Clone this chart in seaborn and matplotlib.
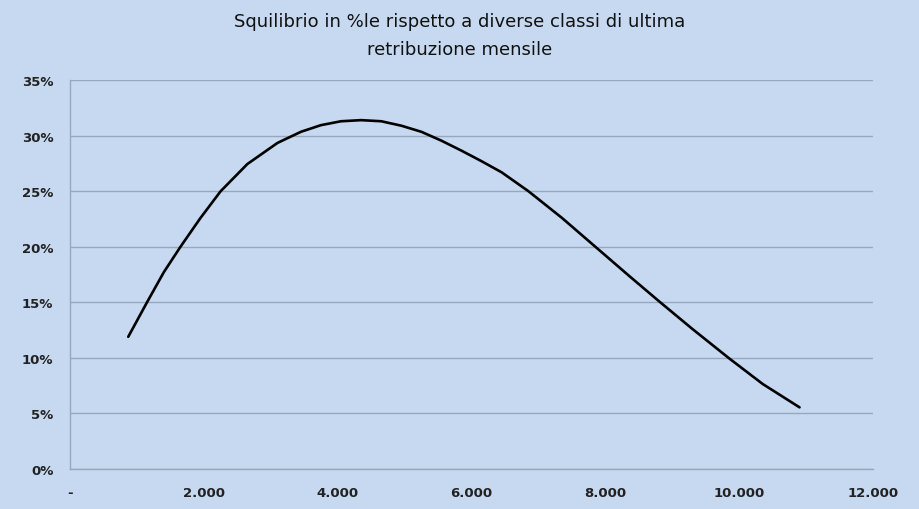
import numpy as np
import pandas as pd
import matplotlib
matplotlib.use("Agg")
import matplotlib.pyplot as plt
import seaborn as sns

# Retribuzione mensile (classi) e squilibrio in %
retribuzione = [870, 1150, 1400, 1650, 1950, 2250, 2650, 3100, 3450, 3750,
                4050, 4350, 4650, 4950, 5250, 5550, 5850, 6150, 6450, 6850,
                7350, 7850, 8350, 8800, 9300, 9850, 10350, 10900]
squilibrio = [11.9, 15.0, 17.7, 20.0, 22.6, 25.0, 27.45, 29.35, 30.35, 30.95,
              31.3, 31.4, 31.3, 30.9, 30.35, 29.55, 28.65, 27.7, 26.7, 25.0,
              22.6, 20.0, 17.4, 15.1, 12.6, 9.95, 7.65, 5.55]

x_ticks = [0, 2000, 4000, 6000, 8000, 10000, 12000]
x_labels = ["-", "2.000", "4.000", "6.000", "8.000", "10.000", "12.000"]
y_ticks = [0, 5, 10, 15, 20, 25, 30, 35]
y_labels = ["0%", "5%", "10%", "15%", "20%", "25%", "30%", "35%"]

df = pd.DataFrame({"retribuzione": retribuzione, "squilibrio": squilibrio})

sfondo = "#C6D9F1"
griglia = "#97A7BC"

sns.set_style("white")
plt.rcParams["font.family"] = ["DejaVu Sans"]

fig = plt.figure(figsize=(9.2, 5.1), dpi=100, facecolor=sfondo)
ax = fig.add_axes([0.0761, 0.0784, 0.873, 0.7625])
ax.set_facecolor(sfondo)

sns.lineplot(data=df, x="retribuzione", y="squilibrio", color="black",
             linewidth=1.9, ax=ax)

ax.set_xlim(0, 12000)
ax.set_ylim(0, 35)
ax.set_xticks(x_ticks)
ax.set_xticklabels(x_labels, fontsize=9.5, fontweight="bold", color="#222222")
ax.set_yticks(y_ticks)
ax.set_yticklabels(y_labels, fontsize=9.5, fontweight="bold", color="#222222")
ax.set_xlabel("")
ax.set_ylabel("")

ax.grid(axis="y", color=griglia, linewidth=1)
ax.set_axisbelow(True)
for lato in ["top", "right"]:
    ax.spines[lato].set_visible(False)
for lato in ["left", "bottom"]:
    ax.spines[lato].set_color(griglia)
    ax.spines[lato].set_linewidth(1)
ax.tick_params(axis="both", length=6, color=griglia, width=1, pad=6)

fig.text(0.5, 0.957, "Squilibrio in %le rispetto a diverse classi di ultima",
         ha="center", va="center", fontsize=13, color="#111111")
fig.text(0.5, 0.902, "retribuzione mensile",
         ha="center", va="center", fontsize=13, color="#111111")

fig.savefig("out.png", dpi=100, facecolor=sfondo)
